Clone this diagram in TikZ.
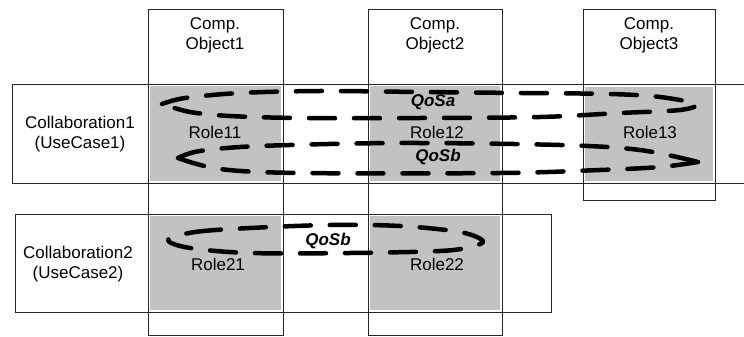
\documentclass[tikz,border=0pt]{standalone}
\usepackage{fontspec}
\setmainfont{Liberation Sans}
\begin{document}
\begin{tikzpicture}[x=1pt,y=-1pt,
  frame/.style={draw=black!85, line width=0.8pt},
  rolefill/.style={fill=black!24, draw=none},
  lbl/.style={font=\fontsize{17}{20}\selectfont, align=center, inner sep=0pt},
  qos/.style={font=\fontsize{17}{20}\selectfont\bfseries\itshape, inner sep=0pt},
  qosloop/.style={line width=4.5pt, line cap=round, line join=round, dash pattern=on 26pt off 19pt, black}]
\useasboundingbox (0,0) rectangle (744,337);
% shaded role areas
\fill[rolefill] (150,86) rectangle (281,181);
\fill[rolefill] (370,86) rectangle (500,181);
\fill[rolefill] (585,87) rectangle (713,181);
\fill[rolefill] (150,216) rectangle (281,310);
\fill[rolefill] (370,216) rectangle (500,310);
% component object columns
\draw[frame] (148,9) rectangle (283,335);
\draw[frame] (368,9) rectangle (502,335);
\draw[frame] (583,9) rectangle (715,200);
% collaboration rows
\draw[frame] (744,84) -- (12,84) -- (12,183) -- (744,183);
\draw[frame] (15,214) rectangle (551,312);
% QoS loops
\draw[qosloop] plot[smooth, tension=0.55] coordinates {
  (162,104) (185,98) (240,93) (320,91) (420,92) (520,93) (610,94) (660,97)
  (696,104) (680,110) (620,113) (540,117) (420,118) (300,118) (230,116) (190,112) (162,104)};
\draw[qosloop] plot[smooth, tension=0.55] coordinates {
  (178,158) (200,151) (260,146) (400,143) (560,145) (640,150) (698,162)};
\draw[qosloop] plot[smooth, tension=0.55] coordinates {
  (698,162) (660,167) (600,170) (500,173) (300,173) (220,169) (178,158)};
\draw[qosloop] plot[smooth cycle, tension=0.55] coordinates {
  (168,240) (195,232) (250,228) (330,225) (400,226) (460,232) (483,241)
  (470,247) (440,251) (350,253) (250,253) (190,248)};
% texts
\node[lbl] (co1) at (215,35) {Comp.\\Object1};
\node[lbl] (co2) at (435,35) {Comp.\\Object2};
\node[lbl] (co3) at (649,35) {Comp.\\Object3};
\node[lbl] (c1) at (80,134) {Collaboration1\\(UseCase1)};
\node[lbl] (c2) at (78,264) {Collaboration2\\(UseCase2)};
\node[lbl] (r11) at (215,132) {Role11};
\node[lbl] (r12) at (437,132) {Role12};
\node[lbl] (r13) at (650,132) {Role13};
\node[lbl] (r21) at (218,264) {Role21};
\node[lbl] (r22) at (437,264) {Role22};
\node[qos] (qa) at (433,102) {QoSa};
\node[qos] (qb) at (438,157) {QoSb};
\node[qos] (qb2) at (328,241) {QoSb};
\end{tikzpicture}
\end{document}
